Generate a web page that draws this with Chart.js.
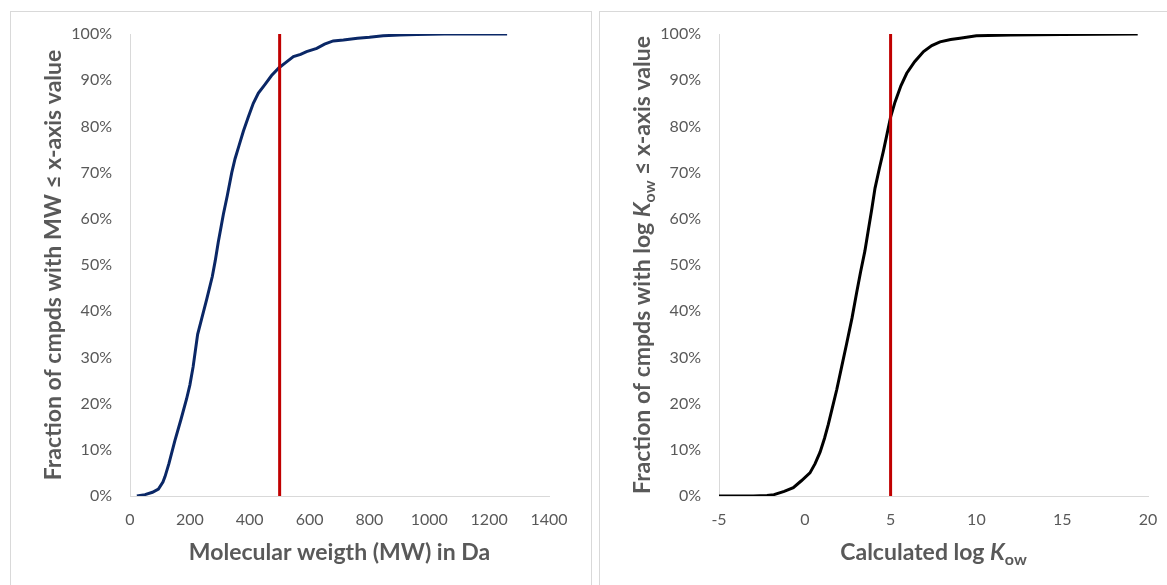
<!DOCTYPE html>
<html>
<head>
<meta charset="utf-8">
<script src="https://cdn.jsdelivr.net/npm/chart.js@4.4.1/dist/chart.umd.min.js"></script>
<style>
  html, body { margin: 0; padding: 0; background: #fff; overflow: hidden; }
  body { width: 1167px; height: 585px; position: relative; }
  .panel { position: absolute; border: 1px solid #d9d9d9; background: #fff; }
  #panelMW { left: 10px; top: 11px; width: 580px; height: 600px; }
  #panelKow { left: 599px; top: 11px; width: 600px; height: 600px; }
  canvas { position: absolute; left: 0; top: 0; }
</style>
</head>
<body>
<div class="panel" id="panelMW"><canvas id="chartMW" width="580" height="573"></canvas></div>
<div class="panel" id="panelKow"><canvas id="chartKow" width="567" height="573"></canvas></div>

<script>
// Cumulative distribution - molecular weight (Da) vs fraction (%)
var mwValues = [23, 50, 75, 95, 110, 117, 130, 150, 170, 189, 200, 211, 226, 240, 256, 275, 285, 295, 305, 312,
    325, 340, 351, 365, 379, 395, 412, 429, 450, 473, 498, 520, 546, 570, 590, 624, 650, 679, 713, 760,
    800, 846, 900, 958, 1050, 1260];
var mwFraction = [0, 0.3, 0.8, 1.5, 3, 4.2, 7, 12, 16.5, 21, 24, 28, 35, 38.5, 42.5, 47.5, 51, 55, 58.5, 61,
    65, 70, 73, 76, 79, 82, 85, 87.2, 89, 91, 92.7, 93.8, 95.1, 95.6, 96.2, 96.9, 97.8, 98.5, 98.7, 99.1,
    99.3, 99.6, 99.8, 99.9, 100, 100];

// Cumulative distribution - calculated log Kow vs fraction (%)
var kowValues = [-5, -3, -2.2, -1.8, -1.2, -0.67, -0.2, 0.3, 0.6, 0.89, 1.15, 1.37, 1.6, 1.86, 2.15, 2.44, 2.75,
    3.02, 3.25, 3.5, 3.7, 3.9, 4.09, 4.35, 4.57, 4.8, 5.0, 5.26, 5.6, 5.94, 6.4, 6.92, 7.4, 7.88, 8.5,
    9.04, 10, 12, 15, 19.4];
var kowFraction = [0, 0, 0.1, 0.3, 1, 1.8, 3.3, 5, 7, 9.5, 12.5, 15.5, 19, 23, 28, 33, 38.5,
    44, 48.5, 53, 57.5, 62, 66.6, 71, 74.5, 78.5, 82, 85.3, 88.8, 91.5, 94, 96.2, 97.5, 98.3, 98.8,
    99.1, 99.6, 99.8, 99.9, 100];

// Cut-off lines (red)
var mwCutoff = 500;
var kowCutoff = 5;

// Tick labels
var fractionTicks = [0, 10, 20, 30, 40, 50, 60, 70, 80, 90, 100];
var mwTicks = [0, 200, 400, 600, 800, 1000, 1200, 1400];
var kowTicks = [-5, 0, 5, 10, 15, 20];

var GREY = '#595959';
var TITLE_SIZE = 23;
var SUB_SIZE = 16;

function partFont(p) {
    return (p.italic ? 'italic ' : '') + 'bold ' + (p.sub ? SUB_SIZE : TITLE_SIZE) + 'px Lato';
}

// draws a title made of several pieces (italic K, subscript ow...)
function drawParts(ctx, parts, cx, baseY) {
    var total = 0;
    parts.forEach(function (p) {
        ctx.font = partFont(p);
        total += ctx.measureText(p.text).width;
    });
    var x = cx - total / 2;
    ctx.textAlign = 'left';
    parts.forEach(function (p) {
        ctx.font = partFont(p);
        ctx.fillText(p.text, x, baseY + (p.sub ? 5 : 0));
        x += ctx.measureText(p.text).width;
    });
}

var axisTitles = {
    id: 'axisTitles',
    afterDraw: function (chart, args, opts) {
        var ctx = chart.ctx;
        var a = chart.chartArea;
        ctx.save();
        ctx.fillStyle = GREY;
        ctx.textBaseline = 'alphabetic';
        drawParts(ctx, opts.x, (a.left + a.right) / 2, a.bottom + 64);
        ctx.translate(a.left - 69, (a.top + a.bottom) / 2);
        ctx.rotate(-Math.PI / 2);
        drawParts(ctx, opts.y, 0, 0);
        ctx.restore();
    }
};

function toPoints(xs, ys) {
    return xs.map(function (x, i) { return { x: x, y: ys[i] }; });
}

function makeChart(id, xs, ys, cutoff, color, xTicks, padRight, titles) {
    var ctx = document.getElementById(id).getContext('2d');
    return new Chart(ctx, {
        type: 'scatter',
        data: {
            datasets: [{
                data: [{ x: cutoff, y: 0 }, { x: cutoff, y: 100 }],
                showLine: true,
                borderColor: '#c00000',
                borderWidth: 3,
                pointRadius: 0
            }, {
                data: toPoints(xs, ys),
                showLine: true,
                borderColor: color,
                borderWidth: 3,
                pointRadius: 0,
                tension: 0
            }]
        },
        options: {
            responsive: false,
            animation: false,
            layout: { padding: { top: 22, right: padRight, left: 0, bottom: 0 } },
            plugins: {
                legend: { display: false },
                tooltip: { enabled: false },
                axisTitles: titles
            },
            scales: {
                x: {
                    type: 'linear',
                    min: xTicks[0],
                    max: xTicks[xTicks.length - 1],
                    afterBuildTicks: function (axis) {
                        axis.ticks = xTicks.map(function (v) { return { value: v }; });
                    },
                    afterFit: function (scale) { scale.height = 89; },
                    // invisible tick marks give the label gap
                    grid: { drawOnChartArea: false, drawTicks: true, tickLength: 14, tickColor: 'rgba(0,0,0,0)' },
                    border: { color: '#d9d9d9', width: 1 },
                    ticks: {
                        padding: 0,
                        color: GREY,
                        font: { family: 'Lato', size: 16 },
                        maxRotation: 0,
                        callback: function (v) { return String(v); }
                    }
                },
                y: {
                    min: 0,
                    max: 100,
                    afterBuildTicks: function (axis) {
                        axis.ticks = fractionTicks.map(function (v) { return { value: v }; });
                    },
                    afterFit: function (scale) { scale.width = 119; },
                    grid: { drawOnChartArea: false, drawTicks: true, tickLength: 18, tickColor: 'rgba(0,0,0,0)' },
                    border: { color: '#d9d9d9', width: 1 },
                    ticks: {
                        padding: 0,
                        color: GREY,
                        font: { family: 'Lato', size: 16 },
                        callback: function (v) { return v + '%'; }
                    }
                }
            }
        },
        plugins: [axisTitles]
    });
}

makeChart('chartMW', mwValues, mwFraction, mwCutoff, '#0a2766', mwTicks, 42, {
    x: [{ text: 'Molecular weigth (MW) in Da' }],
    y: [{ text: 'Fraction of cmpds with MW \u2264 x-axis value' }]
});

makeChart('chartKow', kowValues, kowFraction, kowCutoff, '#000000', kowTicks, 19, {
    x: [{ text: 'Calculated log ' }, { text: 'K', italic: true }, { text: 'ow', sub: true }],
    y: [{ text: 'Fraction of cmpds with log ' }, { text: 'K', italic: true }, { text: 'ow', sub: true },
        { text: ' \u2264 x-axis value' }]
});
</script>
</body>
</html>
